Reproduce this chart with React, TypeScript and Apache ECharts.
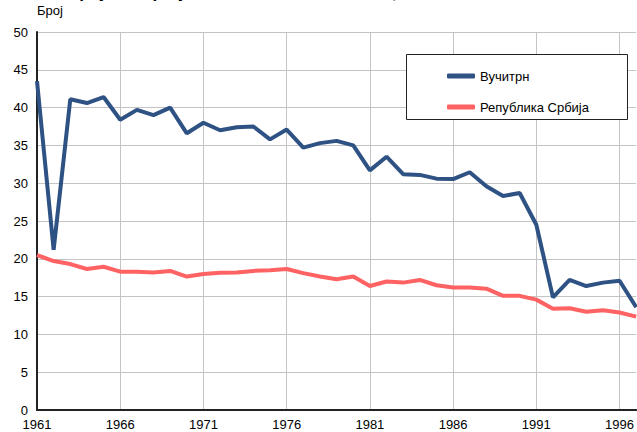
import React, { useEffect, useRef } from "react";
import * as echarts from "echarts";

const years: string[] = [
  "1961", "1962", "1963", "1964", "1965", "1966", "1967", "1968", "1969", "1970",
  "1971", "1972", "1973", "1974", "1975", "1976", "1977", "1978", "1979", "1980",
  "1981", "1982", "1983", "1984", "1985", "1986", "1987", "1988", "1989", "1990",
  "1991", "1992", "1993", "1994", "1995", "1996", "1997",
];

const vucitrn: number[] = [
  43.5, 21.2, 41.1, 40.6, 41.4, 38.4, 39.7, 39.0, 40.0, 36.6,
  38.0, 37.0, 37.4, 37.5, 35.8, 37.1, 34.7, 35.3, 35.6, 35.0,
  31.7, 33.5, 31.2, 31.1, 30.6, 30.55, 31.45, 29.6, 28.3, 28.7,
  24.5, 14.9, 17.2, 16.4, 16.85, 17.1, 13.6,
];

const srbija: number[] = [
  20.5, 19.7, 19.3, 18.65, 18.95, 18.3, 18.3, 18.2, 18.4, 17.65,
  18.0, 18.15, 18.2, 18.4, 18.5, 18.65, 18.1, 17.65, 17.3, 17.65,
  16.4, 17.0, 16.85, 17.2, 16.5, 16.2, 16.2, 16.05, 15.1, 15.1,
  14.6, 13.4, 13.45, 13.0, 13.2, 12.9, 12.35,
];

const seriesNames: string[] = ["Вучитрн", "Република Србија"];
const titleText = "Број живорођених на 1000 становника, 1961–1997";
const yAxisName = "Број";

const FONT = "'Liberation Sans', Arial, sans-serif";

export default function App() {
  const ref = useRef<HTMLDivElement>(null);

  useEffect(() => {
    if (!ref.current) return;
    const chart = echarts.init(ref.current, null, { renderer: "svg" });
    chart.setOption({
      animation: false,
      backgroundColor: "#ffffff",
      textStyle: { fontFamily: FONT },
      graphic: [
        {
          type: "text",
          x: 67,
          y: 1,
          style: {
            text: titleText,
            font: `bold 17px ${FONT}`,
            fill: "#000",
            verticalAlign: "bottom",
          },
        },
        {
          type: "rect",
          shape: { x: 406.5, y: 54.5, width: 221, height: 65 },
          style: { fill: "#fff", stroke: "#222", lineWidth: 1 },
          z: 10,
        },
      ],
      legend: {
        orient: "vertical",
        left: 442,
        top: 63,
        icon: "roundRect",
        itemWidth: 28,
        itemHeight: 5,
        itemGap: 15,
        data: seriesNames,
        textStyle: { fontSize: 13, color: "#000", fontFamily: FONT, lineHeight: 16 },
        z: 20,
      },
      grid: { left: 37, right: 0, top: 32, bottom: 22, containLabel: false },
      xAxis: {
        type: "category",
        data: years,
        boundaryGap: false,
        axisLine: { show: true, lineStyle: { color: "#222", width: 2 } },
        axisTick: { show: false },
        axisLabel: { interval: 4, color: "#000", fontSize: 13, margin: 8, fontFamily: FONT },
        splitLine: { show: true, interval: 4, lineStyle: { color: "#c4c4c4", width: 1 } },
      },
      yAxis: {
        type: "value",
        min: 0,
        max: 50,
        interval: 5,
        name: yAxisName,
        nameLocation: "end",
        nameGap: 15,
        nameTextStyle: { align: "left", color: "#000", fontSize: 13, fontFamily: FONT },
        axisLine: { show: true, lineStyle: { color: "#222", width: 2 } },
        axisTick: { show: false },
        axisLabel: { color: "#000", fontSize: 13, margin: 9, fontFamily: FONT },
        splitLine: { show: true, lineStyle: { color: "#c4c4c4", width: 1 } },
      },
      series: [
        {
          name: seriesNames[0],
          type: "line",
          data: vucitrn,
          symbol: "none",
          lineStyle: { color: "#2E5283", width: 4 },
          itemStyle: { color: "#2E5283" },
        },
        {
          name: seriesNames[1],
          type: "line",
          data: srbija,
          symbol: "none",
          lineStyle: { color: "#FF6262", width: 4 },
          itemStyle: { color: "#FF6262" },
        },
      ],
    });
    return () => chart.dispose();
  }, []);

  return <div ref={ref} style={{ width: 637, height: 432, position: "absolute", left: 0, top: 0 }} />;
}
